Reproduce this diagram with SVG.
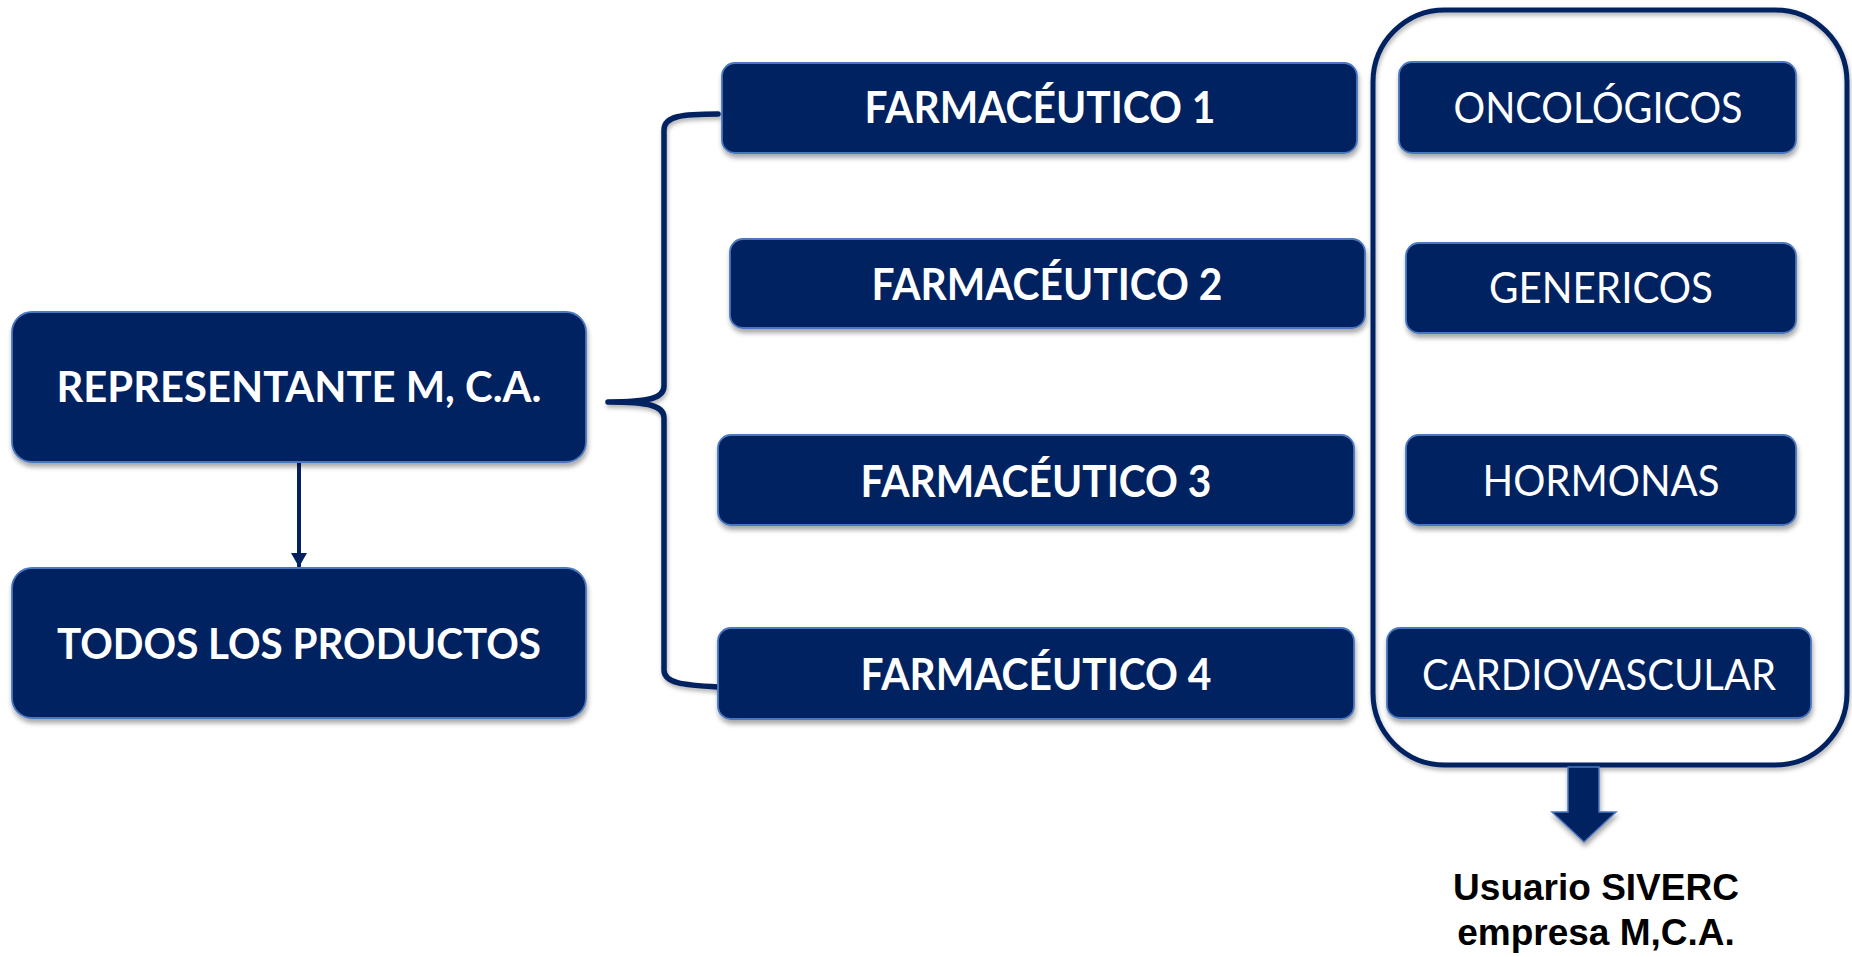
<svg xmlns="http://www.w3.org/2000/svg" width="1852" height="957" viewBox="0 0 1852 957">
  <defs>
    <filter id="shadow" x="-10%" y="-20%" width="120%" height="150%">
      <feDropShadow dx="1" dy="4" stdDeviation="2.5" flood-color="#000000" flood-opacity="0.35"/>
    </filter>
    <filter id="lineShadow" x="-10%" y="-10%" width="120%" height="120%">
      <feDropShadow dx="1" dy="3" stdDeviation="2" flood-color="#000000" flood-opacity="0.3"/>
    </filter>
    <marker id="arrowHead" viewBox="0 0 14 16" refX="13" refY="8" markerWidth="14" markerHeight="16" markerUnits="userSpaceOnUse" orient="auto">
      <path d="M0,0 L14,8 L0,16 Z" fill="#032161"/>
    </marker>
  </defs>
  <style>
    .box { fill: #032161; stroke: #4a78c0; stroke-width: 1.8; filter: url(#shadow); }
    .lbl-b { font-family: Lato, "Open Sans", "Liberation Sans", sans-serif; font-weight: 700; fill: #ffffff; text-anchor: middle; }
    .lbl-r { font-family: Lato, "Open Sans", "Liberation Sans", sans-serif; font-weight: 400; fill: #ffffff; text-anchor: middle; }
    .conn { fill: none; stroke: #032161; stroke-linecap: round; stroke-linejoin: round; }
    .caption { font-family: "Liberation Sans", Arial, sans-serif; font-weight: 700; font-size: 37px; fill: #000000; text-anchor: middle; }
  </style>
  <rect width="1852" height="957" fill="#ffffff"/>

  <g id="container">
    <rect x="1373" y="10" width="474" height="755" rx="72" ry="72" fill="none" stroke="#032161" stroke-width="5" filter="url(#lineShadow)"/>
  </g>

  <g id="connectors">
    <line class="conn" x1="299" y1="462" x2="299" y2="566" stroke-width="4" stroke-linecap="butt" marker-end="url(#arrowHead)"/>
    <path class="conn" stroke-width="5.5" filter="url(#lineShadow)" d="M718,114 C682,114 664,116 664,130 L664,386 C664,398 650,402 608,402 C650,402 664,406 664,418 L664,670 C664,683 682,685 718,687"/>
    <path d="M1568,767 L1599,767 L1599,812 L1616,812 L1584,842 L1552,812 L1568,812 Z" fill="#032161" stroke="#4a78c0" stroke-width="1.5" filter="url(#shadow)"/>
  </g>

  <g id="representante">
    <rect class="box" x="12" y="312" width="574" height="150" rx="20"/>
    <text class="lbl-b" x="299" y="402" font-size="42" textLength="485" lengthAdjust="spacingAndGlyphs">REPRESENTANTE M, C.A.</text>
  </g>
  <g id="todos">
    <rect class="box" x="12" y="568" width="574" height="150" rx="20"/>
    <text class="lbl-b" x="299" y="659" font-size="42" textLength="484" lengthAdjust="spacingAndGlyphs">TODOS LOS PRODUCTOS</text>
  </g>

  <g id="farm1">
    <rect class="box" x="722" y="63" width="635" height="90" rx="13"/>
    <text class="lbl-b" x="1040" y="123" font-size="44" textLength="351" lengthAdjust="spacingAndGlyphs">FARMACÉUTICO 1</text>
  </g>
  <g id="farm2">
    <rect class="box" x="730" y="239" width="635" height="89" rx="13"/>
    <text class="lbl-b" x="1047" y="300" font-size="44" textLength="351" lengthAdjust="spacingAndGlyphs">FARMACÉUTICO 2</text>
  </g>
  <g id="farm3">
    <rect class="box" x="718" y="435" width="636" height="90" rx="13"/>
    <text class="lbl-b" x="1036" y="497" font-size="44" textLength="351" lengthAdjust="spacingAndGlyphs">FARMACÉUTICO 3</text>
  </g>
  <g id="farm4">
    <rect class="box" x="718" y="628" width="636" height="91" rx="13"/>
    <text class="lbl-b" x="1036" y="690" font-size="44" textLength="351" lengthAdjust="spacingAndGlyphs">FARMACÉUTICO 4</text>
  </g>

  <g id="oncologicos">
    <rect class="box" x="1399" y="62" width="397" height="91" rx="13"/>
    <text class="lbl-r" x="1598" y="123" font-size="42" textLength="289" lengthAdjust="spacingAndGlyphs">ONCOLÓGICOS</text>
  </g>
  <g id="genericos">
    <rect class="box" x="1406" y="243" width="390" height="90" rx="13"/>
    <text class="lbl-r" x="1601" y="303" font-size="42" textLength="224" lengthAdjust="spacingAndGlyphs">GENERICOS</text>
  </g>
  <g id="hormonas">
    <rect class="box" x="1406" y="435" width="390" height="90" rx="13"/>
    <text class="lbl-r" x="1601" y="496" font-size="42" textLength="237" lengthAdjust="spacingAndGlyphs">HORMONAS</text>
  </g>
  <g id="cardiovascular">
    <rect class="box" x="1387" y="628" width="424" height="90" rx="13"/>
    <text class="lbl-r" x="1599" y="690" font-size="42" textLength="354" lengthAdjust="spacingAndGlyphs">CARDIOVASCULAR</text>
  </g>

  <g id="caption">
    <text class="caption" x="1596" y="900">Usuario SIVERC</text>
    <text class="caption" x="1596" y="945">empresa M,C.A.</text>
  </g>
</svg>
